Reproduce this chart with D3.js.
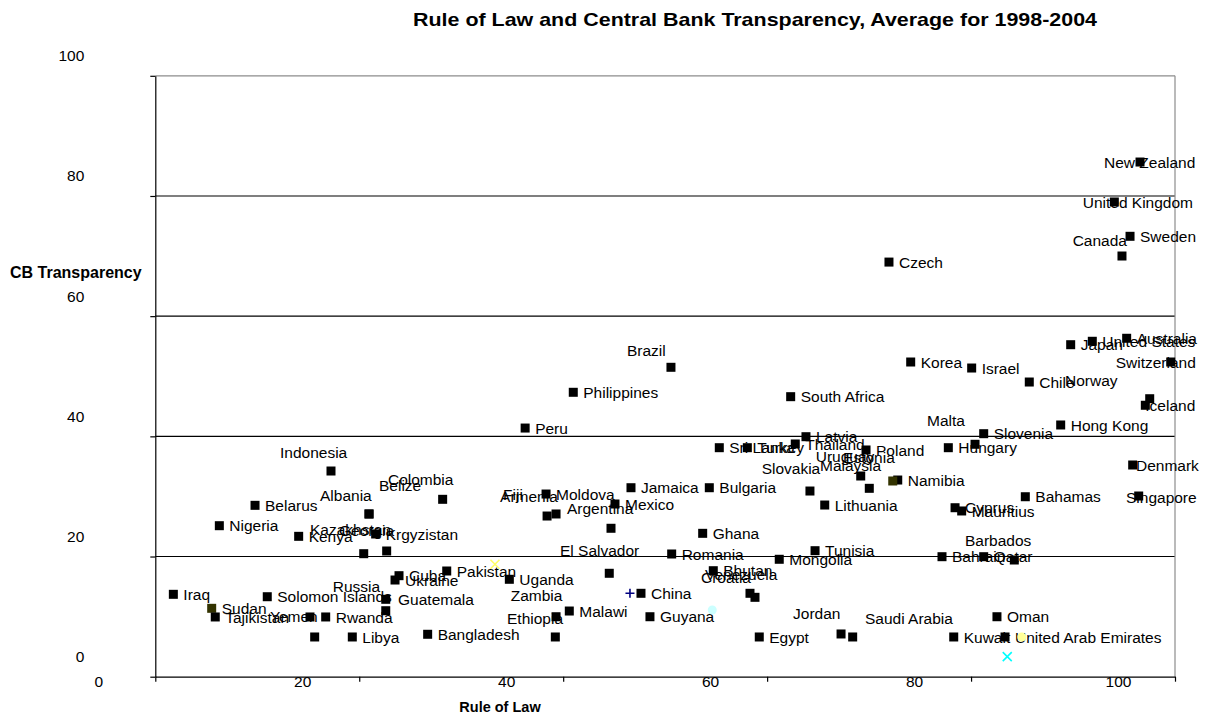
<!DOCTYPE html>
<html>
<head>
<meta charset="utf-8">
<script src="https://cdn.jsdelivr.net/npm/d3@7"></script>
<style>
  body { margin: 0; background: #fff; }
  svg { display: block; }
  text { font-family: Arial, "Liberation Sans", sans-serif; fill: #000; }
</style>
</head>
<body>
<svg id="chart" width="1209" height="722"></svg>
<script>
// Country names, Rule of Law score and CB Transparency score (1998-2004 averages)
const countries = [
  "Iraq","Sudan","Tajikistan","Solomon Islands","Yemen","","Rwanda","Libya","Russia","Guatemala",
  "Cuba","Ukraine","Pakistan","Bangladesh","Uganda","Zambia","Ethiopia","Malawi","El Salvador","China",
  "Guyana","Romania","Bhutan","Croatia","Venezuela","Egypt","Mongolia","Tunisia","Jordan","Saudi Arabia",
  "Bahrain","Qatar","Barbados","Oman","Kuwait","United Arab Emirates","Hungary","Malta","Slovenia","Korea",
  "Israel","Chile","Japan","United States","Australia","Switzerland","Norway","Iceland","Hong Kong","Denmark",
  "Singapore","Bahamas","Cyprus","Mauritius","Namibia","Estonia","Poland","Uruguay","Malaysia","Lithuania",
  "Slovakia","Latvia","Sri Lanka","Turkey","Thailand","South Africa","Jamaica","Bulgaria","Mexico","Argentina",
  "Ghana","Moldova","Fiji","Armenia","Peru","Philippines","Brazil","Czech","Sweden","Canada",
  "United Kingdom","New Zealand","Indonesia","Belarus","Nigeria","Kenya","Albania","Colombia","Belize","Krgyzistan",
  "Kazakhstan","Georgia"
];
const ruleOfLaw = [
  1.77,5.53,5.88,10.98,15.63,15.17,16.71,19.32,22.60,22.60,
  23.90,23.51,28.58,26.71,34.72,39.30,39.23,40.60,44.52,47.63,
  48.51,50.64,54.72,58.32,58.81,59.23,61.19,64.70,67.25,68.39,
  77.15,81.24,84.24,82.54,78.30,83.33,77.77,80.39,81.24,74.08,
  80.06,85.71,89.77,91.89,95.26,99.58,97.52,97.09,88.79,95.85,
  96.44,85.32,78.43,79.08,72.81,72.32,69.70,69.18,70.02,65.65,
  64.20,63.81,55.31,58.06,62.76,62.31,46.65,54.33,45.08,44.69,
  53.68,38.32,39.30,38.42,36.27,40.99,50.57,71.95,95.59,94.80,
  94.05,96.57,17.23,9.78,6.28,14.06,20.96,28.18,20.96,21.61,
  20.44,22.69
];
const cbTransparency = [
  13.71,11.38,9.94,13.31,6.61,9.94,9.94,6.61,10.98,12.88,
  16.81,16.09,17.59,7.06,16.21,9.98,6.61,10.93,17.21,13.88,
  9.98,20.42,17.64,13.88,13.21,6.61,19.54,20.97,7.11,6.61,
  19.97,19.97,19.42,9.98,6.61,6.61,38.11,38.68,40.44,52.37,
  51.37,49.04,55.25,55.82,56.32,52.37,46.26,45.17,41.89,35.23,
  30.07,29.95,28.12,27.58,32.73,32.57,37.73,33.40,31.35,28.57,
  30.90,39.94,38.11,38.11,38.73,46.60,31.45,31.45,28.74,24.70,
  23.86,30.40,27.08,26.74,41.38,47.33,51.49,69.00,73.29,70.01,
  79.00,85.65,34.23,28.52,25.13,23.36,27.08,29.52,27.08,23.75,
  20.47,20.92
];
// Countries drawn in the second (olive) series colour
const oliveSeries = ["Sudan","Estonia"];

// Hand-placed data labels: [dx, dy] from the marker centre to the label's left/middle
const labelShift = {
  "Yemen":[-44.7,-20.3], "Russia":[-53,-24.7], "Guatemala":[12.3,0], "Zambia":[-45.3,-21.7],
  "Ethiopia":[-48.3,-19], "El Salvador":[-49.3,-22.6], "Croatia":[-49,-16], "Venezuela":[-50,-23],
  "Jordan":[-48,-21], "Saudi Arabia":[12.3,-19], "Barbados":[-49.3,-20], "Malta":[-48,-23.6],
  "Switzerland":[-55,0], "Norway":[-84.7,-18.7], "Iceland":[0,0], "Denmark":[3.3,0],
  "Singapore":[-12.7,1], "Estonia":[-49.7,-24], "Uruguay":[-45,-20], "Malaysia":[-49.3,-23.3],
  "Slovakia":[-48.3,-22.7], "Argentina":[-44,-20.3], "Fiji":[-53,-20], "Armenia":[-47,-20],
  "Brazil":[-44,-17.3], "Canada":[-49.3,-16], "United Kingdom":[-31.6,0], "New Zealand":[-36,0],
  "Indonesia":[-51,-18.3], "Albania":[-49,-19], "Colombia":[-54.7,-20.3], "Belize":[10,-29],
  "Kazakhstan":[-53.7,-24.7], "Georgia":[-47.7,-20.3]
};

// Further single-point series with their own marker styles
const extraShape = ["x","plus","circle","circle","x"];
const extraColor = ["#ffff66","#000080","#ccffff","#ffff99","#00ffff"];
const extraRoL   = [33.31,46.55,54.62,84.97,83.55];
const extraCBT   = [18.71,13.88,11.10,6.61,3.33];

const xTicks = [0,20,40,60,80,100];
const yTicks = [0,20,40,60,80,100];

const titleText = "Rule of Law and Central Bank Transparency, Average for 1998-2004";
const xTitle = "Rule of Law";
const yTitle = "CB Transparency";

const svg = d3.select("#chart");
const plotL = 155.3, plotR = 1175, plotT = 75.8, plotB = 676.7;
const x = d3.scaleLinear().domain([0,100]).range([plotL,plotR]);
const y = d3.scaleLinear().domain([0,100]).range([plotB,plotT]);

svg.append("rect").attr("width",1209).attr("height",722).attr("fill","#fff");

// Horizontal gridlines
svg.append("g").selectAll("line").data(yTicks.filter(d => d > 0 && d < 100)).join("line")
  .attr("x1",plotL).attr("x2",plotR).attr("y1",d => y(d)).attr("y2",d => y(d))
  .attr("stroke","#000").attr("stroke-width",1.2);

// Plot frame (top and right in grey)
svg.append("line").attr("x1",plotL).attr("x2",plotR).attr("y1",y(100)).attr("y2",y(100))
  .attr("stroke","#8c8c8c").attr("stroke-width",1.2);
svg.append("line").attr("x1",plotR).attr("x2",plotR).attr("y1",y(100)).attr("y2",y(0))
  .attr("stroke","#8c8c8c").attr("stroke-width",1.2);

// Axes
const yAxis = svg.append("g").attr("transform",`translate(${plotL},0)`)
  .call(d3.axisLeft(y).tickValues(yTicks).tickSize(5).tickSizeOuter(0).tickFormat(d3.format("d")));
const xAxis = svg.append("g").attr("transform",`translate(0,${plotB})`)
  .call(d3.axisBottom(x).tickValues(xTicks).tickSize(5).tickSizeOuter(0).tickFormat(d3.format("d")));
[yAxis,xAxis].forEach(a => {
  a.select(".domain").attr("stroke","#000").attr("stroke-width",1.2);
  a.selectAll(".tick line").attr("stroke","#000").attr("stroke-width",1.2);
  a.selectAll("text").style("font-size","15.5px").style("font-family","Arial, 'Liberation Sans', sans-serif").attr("fill","#000");
});
yAxis.selectAll(".tick text").attr("x",-71).attr("transform","translate(0,-20)");
xAxis.selectAll(".tick text").attr("transform","translate(-57,-9)");

const pts = countries.map((c,i) => ({name:c, rol:ruleOfLaw[i], cbt:cbTransparency[i]}));

// Data labels (markers are drawn over them)
svg.append("g").selectAll("text").data(pts.filter(d => d.name)).join("text")
  .attr("x",d => x(d.rol) + (labelShift[d.name] ? labelShift[d.name][0] : 10))
  .attr("y",d => y(d.cbt) + (labelShift[d.name] ? labelShift[d.name][1] : 0))
  .attr("dy","0.36em")
  .style("font-size","15.5px")
  .text(d => d.name);

// Unlabelled single-point series
extraRoL.forEach((v,i) => {
  const cx = x(v), cy = y(extraCBT[i]), r = 4.5;
  if (extraShape[i] === "circle") {
    svg.append("circle").attr("cx",cx).attr("cy",cy).attr("r",r).attr("fill",extraColor[i]);
  } else {
    const p = d3.path();
    if (extraShape[i] === "x") {
      p.moveTo(cx-r,cy-r); p.lineTo(cx+r,cy+r); p.moveTo(cx+r,cy-r); p.lineTo(cx-r,cy+r);
    } else {
      p.moveTo(cx-r,cy); p.lineTo(cx+r,cy); p.moveTo(cx,cy-r); p.lineTo(cx,cy+r);
    }
    svg.append("path").attr("d",p.toString()).attr("stroke",extraColor[i]).attr("stroke-width",1.6).attr("fill","none");
  }
});

// Country markers
const ms = 9;
svg.append("g").selectAll("rect").data(pts).join("rect")
  .attr("x",d => x(d.rol)-ms/2).attr("y",d => y(d.cbt)-ms/2)
  .attr("width",ms).attr("height",ms)
  .attr("fill",d => oliveSeries.includes(d.name) ? "#333300" : "#000");

// Titles
svg.append("text").attr("x",413).attr("y",26)
  .attr("textLength",684).attr("lengthAdjust","spacingAndGlyphs")
  .style("font-size","19px").style("font-weight","bold").text(titleText);
svg.append("text").attr("x",10).attr("y",278)
  .style("font-size","16px").style("font-weight","bold").text(yTitle);
svg.append("text").attr("x",500).attr("y",712).attr("text-anchor","middle")
  .style("font-size","14.5px").style("font-weight","bold").text(xTitle);
</script>
</body>
</html>
